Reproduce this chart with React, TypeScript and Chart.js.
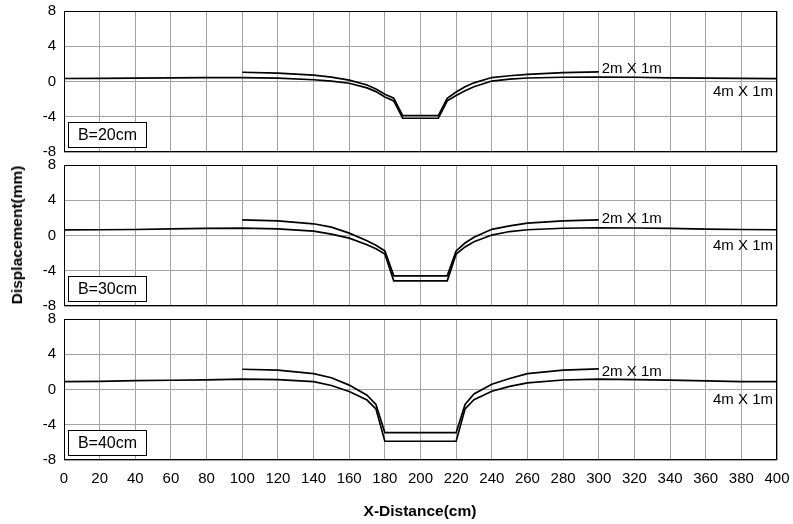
import React, { useEffect, useRef } from "react";
import { Chart, registerables } from "chart.js";

Chart.register(...registerables);

const FONT = "'Liberation Sans', Arial, Helvetica, sans-serif";

// ---- axis settings ----
const X_MIN = 0;
const X_MAX = 400;
const X_STEP = 20;
const Y_MIN = -8;
const Y_MAX = 8;
const Y_STEP = 4;

// ---- series names / panel labels ----
const SERIES_NAMES = ["2m X 1m", "4m X 1m"];
const PANEL_LABELS = ["B=20cm", "B=30cm", "B=40cm"];
const LABEL_2M_Y = [1.4, 1.9, 2.05];
const LABEL_4M_Y = [-1.15, -1.15, -1.15];

// ---- panel 1 (B=20cm) ----
const P1_X_4M = [0, 20, 40, 60, 80, 100, 120, 140, 150, 160, 170, 175, 180, 185, 190, 210, 215, 220, 225, 230, 240, 250, 260, 280, 300, 320, 340, 360, 380, 400];
const P1_Y_4M = [0.34, 0.36, 0.38, 0.42, 0.45, 0.45, 0.38, 0.2, 0.05, -0.2, -0.72, -1.15, -1.75, -2.2, -4.17, -4.17, -2.2, -1.6, -1.05, -0.6, 0.05, 0.28, 0.4, 0.48, 0.5, 0.48, 0.42, 0.38, 0.35, 0.32];
const P1_X_2M = [100, 120, 140, 150, 160, 170, 175, 180, 185, 190, 210, 215, 220, 225, 230, 240, 250, 260, 280, 300];
const P1_Y_2M = [1.05, 0.95, 0.72, 0.5, 0.15, -0.4, -0.85, -1.45, -1.9, -3.86, -3.86, -1.9, -1.2, -0.6, -0.15, 0.45, 0.65, 0.8, 1.0, 1.1];

// ---- panel 2 (B=30cm) ----
const P2_X_4M = [0, 20, 40, 60, 80, 100, 120, 140, 150, 160, 170, 175, 180, 185, 215, 220, 225, 230, 240, 250, 260, 280, 300, 320, 340, 360, 380, 400];
const P2_Y_4M = [0.63, 0.65, 0.68, 0.76, 0.8, 0.84, 0.76, 0.5, 0.15, -0.3, -1.05, -1.5, -2.1, -5.15, -5.15, -2.1, -1.3, -0.7, 0.05, 0.45, 0.65, 0.82, 0.88, 0.85, 0.8, 0.72, 0.68, 0.65];
const P2_X_2M = [100, 120, 140, 150, 160, 170, 175, 180, 185, 215, 220, 225, 230, 240, 250, 260, 280, 300];
const P2_Y_2M = [1.78, 1.67, 1.33, 0.95, 0.27, -0.6, -1.1, -1.75, -4.58, -4.58, -1.75, -0.85, -0.2, 0.7, 1.1, 1.4, 1.65, 1.78];

// ---- panel 3 (B=40cm) ----
const P3_X_4M = [0, 20, 40, 60, 80, 100, 120, 140, 150, 160, 170, 175, 180, 220, 225, 230, 240, 250, 260, 280, 300, 320, 340, 360, 380, 400];
const P3_Y_4M = [0.9, 0.92, 1.0, 1.05, 1.1, 1.17, 1.13, 0.9, 0.45, -0.22, -1.2, -2.2, -5.87, -5.87, -2.2, -1.15, -0.2, 0.35, 0.76, 1.08, 1.17, 1.12, 1.06, 0.98, 0.9, 0.9];
const P3_X_2M = [100, 120, 140, 150, 160, 170, 175, 180, 220, 225, 230, 240, 250, 260, 280, 300];
const P3_Y_2M = [2.3, 2.2, 1.8, 1.33, 0.5, -0.65, -1.7, -4.9, -4.9, -1.7, -0.5, 0.6, 1.25, 1.8, 2.2, 2.35];

const PANELS = [
  { x4: P1_X_4M, y4: P1_Y_4M, x2: P1_X_2M, y2: P1_Y_2M },
  { x4: P2_X_4M, y4: P2_Y_4M, x2: P2_X_2M, y2: P2_Y_2M },
  { x4: P3_X_4M, y4: P3_Y_4M, x2: P3_X_2M, y2: P3_Y_2M },
];

const W = 793;
const GRID = "#a3a3a3";

type PanelProps = { index: number; top: number; height: number; bottomAxis: boolean };

function PanelChart({ index, top, height, bottomAxis }: PanelProps) {
  const ref = useRef<HTMLCanvasElement>(null);

  useEffect(() => {
    const canvas = ref.current;
    if (!canvas) return;
    const def = PANELS[index];
    const toPts = (xs: number[], ys: number[]) => xs.map((x, i) => ({ x, y: ys[i] }));

    const decor = {
      id: "panelDecor" + index,
      beforeDatasetsDraw(chart: any) {
        const { ctx, chartArea: a } = chart;
        ctx.save();
        ctx.strokeStyle = "#000";
        ctx.lineWidth = 1;
        ctx.strokeRect(Math.round(a.left) + 0.5, Math.round(a.top) + 0.5, Math.round(a.right - a.left) - 1, Math.round(a.bottom - a.top) - 1);
        ctx.restore();
      },
      afterDatasetsDraw(chart: any) {
        const { ctx, chartArea: a, scales } = chart;
        const xs = scales.x;
        const ys = scales.y;
        ctx.save();
        ctx.fillStyle = "#000";
        ctx.font = `15px ${FONT}`;
        ctx.textBaseline = "middle";
        ctx.textAlign = "left";
        ctx.fillText(SERIES_NAMES[0], xs.getPixelForValue(def.x2[def.x2.length - 1]) + 3, ys.getPixelForValue(LABEL_2M_Y[index]));
        ctx.textAlign = "right";
        ctx.fillText(SERIES_NAMES[1], xs.getPixelForValue(X_MAX) - 4, ys.getPixelForValue(LABEL_4M_Y[index]));
        const bx = Math.round(a.left) + 4.5;
        const by = Math.round(a.bottom) - 29.5;
        const bw = 78;
        const bh = 25;
        ctx.fillStyle = "#fff";
        ctx.fillRect(bx, by, bw, bh);
        ctx.strokeStyle = "#000";
        ctx.lineWidth = 1;
        ctx.strokeRect(bx, by, bw, bh);
        ctx.fillStyle = "#000";
        ctx.font = `16px ${FONT}`;
        ctx.textAlign = "center";
        ctx.fillText(PANEL_LABELS[index], bx + bw / 2, by + bh / 2 + 1);
        ctx.restore();
      },
    };

    const lineDs = (label: string, data: any[]) => ({
      label,
      data,
      borderColor: "#000",
      backgroundColor: "#000",
      borderWidth: 1.7,
      pointRadius: 0,
      tension: 0,
      fill: false,
    });

    const chart = new Chart(canvas, {
      type: "line",
      data: {
        datasets: [
          lineDs(SERIES_NAMES[0], toPts(def.x2, def.y2)),
          lineDs(SERIES_NAMES[1], toPts(def.x4, def.y4)),
        ],
      },
      options: {
        animation: false,
        responsive: false,
        maintainAspectRatio: false,
        layout: { padding: { left: 0, right: 16, top: 10, bottom: bottomAxis ? 0 : 10 } },
        plugins: { legend: { display: false }, tooltip: { enabled: false } },
        scales: {
          x: {
            type: "linear",
            min: X_MIN,
            max: X_MAX,
            ticks: {
              stepSize: X_STEP,
              display: bottomAxis,
              autoSkip: false,
              maxRotation: 0,
              padding: 10,
              color: "#000",
              font: { family: FONT, size: 15 },
            },
            grid: { color: GRID, lineWidth: 1, drawTicks: false },
            border: { display: false },
            afterFit: (s: any) => {
              s.height = bottomAxis ? 64 : 0;
              s.paddingLeft = 0;
              s.paddingRight = 0;
              s.paddingTop = 0;
              s.paddingBottom = 0;
            },
          },
          y: {
            type: "linear",
            min: Y_MIN,
            max: Y_MAX,
            ticks: {
              stepSize: Y_STEP,
              padding: 8,
              color: "#000",
              font: { family: FONT, size: 15 },
            },
            grid: { color: GRID, lineWidth: 1, drawTicks: false },
            border: { display: false },
            afterFit: (s: any) => {
              s.width = 64;
              s.paddingTop = 0;
              s.paddingBottom = 0;
              s.paddingLeft = 0;
              s.paddingRight = 0;
            },
          },
        },
      } as any,
      plugins: [decor],
    });
    return () => chart.destroy();
  }, [index, bottomAxis]);

  return (
    <canvas
      ref={ref}
      width={W}
      height={height}
      style={{ position: "absolute", left: 0, top, width: W, height }}
    />
  );
}

export default function App() {
  return (
    <div style={{ position: "fixed", left: 0, top: 0, width: W, height: 524, background: "#fff", overflow: "hidden" }}>
      <PanelChart index={0} top={1} height={161} bottomAxis={false} />
      <PanelChart index={1} top={155} height={161} bottomAxis={false} />
      <PanelChart index={2} top={309} height={215} bottomAxis={true} />
      <div
        style={{
          position: "absolute",
          left: 17,
          top: 235,
          transform: "translate(-50%, -50%) rotate(-90deg)",
          fontFamily: FONT,
          fontWeight: "bold",
          fontSize: 15.5,
          whiteSpace: "nowrap",
          color: "#000",
        }}
      >
        Displacement(mm)
      </div>
      <div
        style={{
          position: "absolute",
          left: 420,
          top: 511,
          transform: "translate(-50%, -50%)",
          fontFamily: FONT,
          fontWeight: "bold",
          fontSize: 15.5,
          whiteSpace: "nowrap",
          color: "#000",
        }}
      >
        X-Distance(cm)
      </div>
    </div>
  );
}
